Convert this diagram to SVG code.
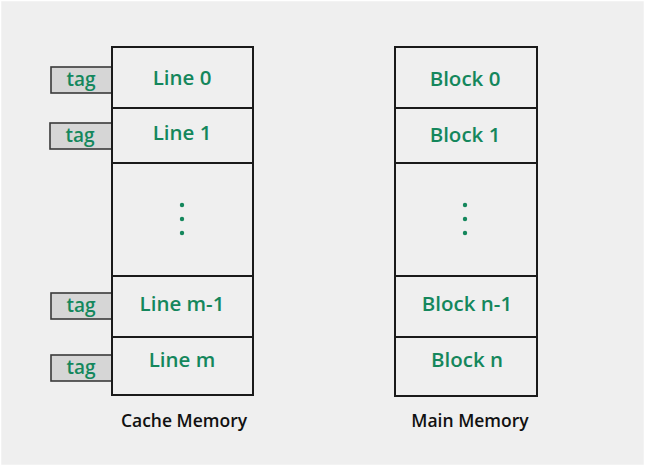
<svg xmlns="http://www.w3.org/2000/svg" width="645" height="466" viewBox="0 0 645 466">
  <style>
    .cell { fill: #efefef; stroke: #1a1a1a; stroke-width: 2; }
    .tag { fill: #d6d6d6; stroke: #3a3a3a; stroke-width: 1.6; }
    .lbl { font-family: "Open Sans", "Noto Sans", sans-serif; font-weight: 600; font-size: 20.5px; fill: #14875c; text-anchor: middle; }
    .tg { font-family: "Open Sans", "Noto Sans", sans-serif; font-weight: 600; font-size: 19px; fill: #14875c; text-anchor: middle; }
    .cap { font-family: "Open Sans", "Noto Sans", sans-serif; font-weight: 600; font-size: 17.5px; fill: #111; text-anchor: middle; }
    .dot { fill: #14875c; }
  </style>
  <rect x="0.5" y="0.5" width="644" height="465" fill="#efefef" stroke="#ffffff" stroke-width="1.5"/>

  <!-- Cache memory: tag + line slots -->
  <g id="cache">
    <g id="cache-line-0">
      <rect class="tag" x="51" y="67" width="61" height="26"/>
      <text class="tg" x="81" y="86">tag</text>
      <rect class="cell" x="112" y="47" width="141" height="61"/>
      <text class="lbl" x="182" y="85">Line 0</text>
    </g>
    <g id="cache-line-1">
      <rect class="tag" x="50" y="123" width="62" height="26"/>
      <text class="tg" x="80" y="142">tag</text>
      <rect class="cell" x="112" y="108" width="141" height="55"/>
      <text class="lbl" x="182" y="140">Line 1</text>
    </g>
    <g id="cache-gap">
      <rect class="cell" x="112" y="163" width="141" height="113"/>
      <circle class="dot" cx="182" cy="205" r="2.2"/>
      <circle class="dot" cx="182" cy="219" r="2.2"/>
      <circle class="dot" cx="182" cy="233" r="2.2"/>
    </g>
    <g id="cache-line-m-1">
      <rect class="tag" x="51" y="293" width="61" height="26"/>
      <text class="tg" x="81" y="312">tag</text>
      <rect class="cell" x="112" y="276" width="141" height="61"/>
      <text class="lbl" x="182" y="311">Line m-1</text>
    </g>
    <g id="cache-line-m">
      <rect class="tag" x="51" y="355" width="61" height="26"/>
      <text class="tg" x="81" y="374">tag</text>
      <rect class="cell" x="112" y="337" width="141" height="58"/>
      <text class="lbl" x="182" y="367">Line m</text>
    </g>
    <text class="cap" x="184" y="427">Cache Memory</text>
  </g>

  <!-- Main memory: block slots -->
  <g id="main">
    <g id="block-0">
      <rect class="cell" x="395" y="47" width="142" height="61"/>
      <text class="lbl" x="465" y="86">Block 0</text>
    </g>
    <g id="block-1">
      <rect class="cell" x="395" y="108" width="142" height="55"/>
      <text class="lbl" x="465" y="142">Block 1</text>
    </g>
    <g id="main-gap">
      <rect class="cell" x="395" y="163" width="142" height="113"/>
      <circle class="dot" cx="465" cy="205" r="2.2"/>
      <circle class="dot" cx="465" cy="219" r="2.2"/>
      <circle class="dot" cx="465" cy="233" r="2.2"/>
    </g>
    <g id="block-n-1">
      <rect class="cell" x="395" y="276" width="142" height="61"/>
      <text class="lbl" x="467" y="311">Block n-1</text>
    </g>
    <g id="block-n">
      <rect class="cell" x="395" y="337" width="142" height="59"/>
      <text class="lbl" x="467" y="367">Block n</text>
    </g>
    <text class="cap" x="470" y="427">Main Memory</text>
  </g>

  <g id="connectors"></g>
</svg>
